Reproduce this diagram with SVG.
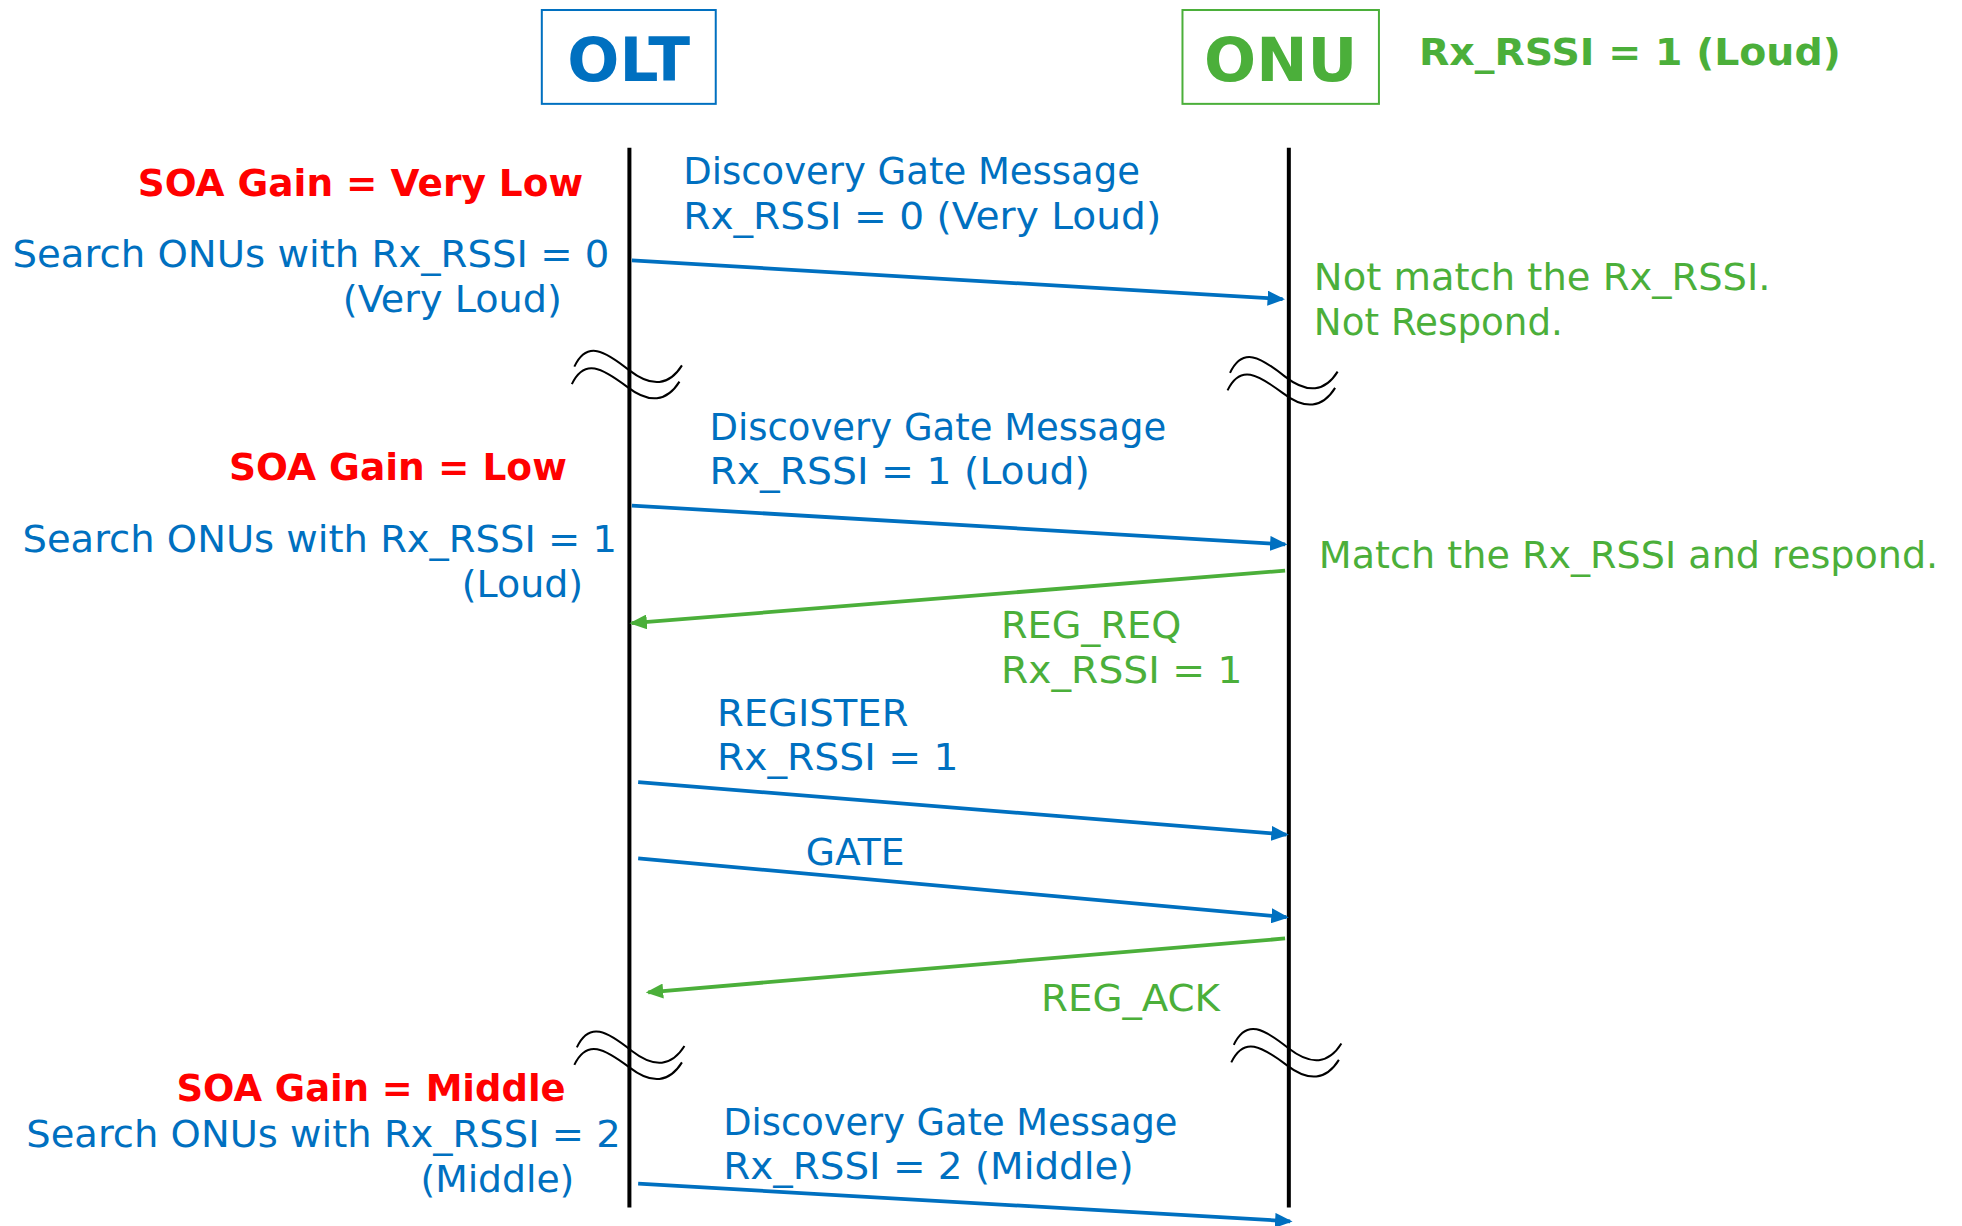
<svg xmlns="http://www.w3.org/2000/svg" width="1962" height="1226" viewBox="0 0 1962 1226">
  <style>
    .t { font-family: "DejaVu Sans", Verdana, sans-serif; font-size: 30px; }
    .b { font-family: "DejaVu Sans", Verdana, sans-serif; font-weight: bold; font-size: 30px; }
    .big { font-family: "DejaVu Sans", Verdana, sans-serif; font-weight: bold; font-size: 49px; }
    .blue { fill: #0070C0; }
    .green { fill: #4BAF3A; }
    .red { fill: #FF0000; }
    .life { stroke: #000; stroke-width: 3.2; fill: none; }
    .brk { stroke: #000; stroke-width: 1.6; fill: none; }
    .msgb { stroke: #0070C0; stroke-width: 3; fill: none; marker-end: url(#ab); }
    .msgg { stroke: #4BAF3A; stroke-width: 3; fill: none; marker-end: url(#ag); }
  </style>
  <defs>
    <marker id="ab" markerUnits="userSpaceOnUse" markerWidth="14" markerHeight="12" refX="12" refY="6" orient="auto">
      <path d="M0,0 L14,6 L0,12 z" fill="#0070C0"/>
    </marker>
    <marker id="ag" markerUnits="userSpaceOnUse" markerWidth="14" markerHeight="12" refX="12" refY="6" orient="auto">
      <path d="M0,0 L14,6 L0,12 z" fill="#4BAF3A"/>
    </marker>
    <!-- double wavy break mark, centred on a lifeline -->
    <g id="brk">
      <path class="brk" d="M-44,-3 C-34,-24 -20,-16 0,0 C18,14 32,12 42,-4"/>
      <path class="brk" d="M-46,11 C-36,-10 -22,-2 -2,13 C16,27 30,25 40,9"/>
    </g>
  </defs>
  <rect width="1962" height="1226" fill="#fff"/>
  <g transform="scale(1.2513)">
    <!-- OLT header -->
    <g id="olt">
      <rect x="433" y="8" width="139" height="75" fill="none" stroke="#0070C0" stroke-width="1.6"/>
      <text class="big blue" x="502.5" y="65" text-anchor="middle">OLT</text>
    </g>
    <!-- ONU header -->
    <g id="onu">
      <rect x="945" y="8" width="157" height="75" fill="none" stroke="#4BAF3A" stroke-width="1.6"/>
      <text class="big green" x="1023.5" y="65" text-anchor="middle">ONU</text>
      <text class="b green" x="1134" y="52" textLength="337" lengthAdjust="spacingAndGlyphs">Rx_RSSI = 1 (Loud)</text>
    </g>

    <!-- lifelines and breaks -->
    <g id="lifelines">
      <line class="life" x1="503" y1="118" x2="503" y2="965"/>
      <line class="life" x1="1030" y1="118" x2="1030" y2="965"/>
      <use href="#brk" x="503" y="296"/>
      <use href="#brk" x="1027" y="301"/>
      <use href="#brk" x="505" y="840"/>
      <use href="#brk" x="1030" y="838"/>
    </g>

    <!-- OLT side annotations -->
    <g id="olt-notes">
      <text class="b red" x="466" y="157" text-anchor="end" textLength="356" lengthAdjust="spacingAndGlyphs">SOA Gain = Very Low</text>
      <text class="t blue" x="487" y="213" text-anchor="end" textLength="477" lengthAdjust="spacingAndGlyphs">Search ONUs with Rx_RSSI = 0</text>
      <text class="t blue" x="449" y="249" text-anchor="end" textLength="175" lengthAdjust="spacingAndGlyphs">(Very Loud)</text>

      <text class="b red" x="453" y="384" text-anchor="end" textLength="270" lengthAdjust="spacingAndGlyphs">SOA Gain = Low</text>
      <text class="t blue" x="493" y="441" text-anchor="end" textLength="475" lengthAdjust="spacingAndGlyphs">Search ONUs with Rx_RSSI = 1</text>
      <text class="t blue" x="466" y="477" text-anchor="end" textLength="97" lengthAdjust="spacingAndGlyphs">(Loud)</text>

      <text class="b red" x="452" y="880" text-anchor="end" textLength="311" lengthAdjust="spacingAndGlyphs">SOA Gain = Middle</text>
      <text class="t blue" x="496" y="917" text-anchor="end" textLength="475" lengthAdjust="spacingAndGlyphs">Search ONUs with Rx_RSSI = 2</text>
      <text class="t blue" x="459" y="953" text-anchor="end" textLength="123" lengthAdjust="spacingAndGlyphs">(Middle)</text>
    </g>

    <!-- ONU side annotations -->
    <g id="onu-notes">
      <text class="t green" x="1050" y="232" textLength="365" lengthAdjust="spacingAndGlyphs">Not match the Rx_RSSI.</text>
      <text class="t green" x="1050" y="268" textLength="199" lengthAdjust="spacingAndGlyphs">Not Respond.</text>
      <text class="t green" x="1054" y="454" textLength="495" lengthAdjust="spacingAndGlyphs">Match the Rx_RSSI and respond.</text>
    </g>

    <!-- message labels -->
    <g id="labels">
      <text class="t blue" x="546" y="147" textLength="365" lengthAdjust="spacingAndGlyphs">Discovery Gate Message</text>
      <text class="t blue" x="546" y="183" textLength="382" lengthAdjust="spacingAndGlyphs">Rx_RSSI = 0 (Very Loud)</text>

      <text class="t blue" x="567" y="352" textLength="365" lengthAdjust="spacingAndGlyphs">Discovery Gate Message</text>
      <text class="t blue" x="567" y="387" textLength="304" lengthAdjust="spacingAndGlyphs">Rx_RSSI = 1 (Loud)</text>

      <text class="t green" x="800" y="510" textLength="144" lengthAdjust="spacingAndGlyphs">REG_REQ</text>
      <text class="t green" x="800" y="546" textLength="193" lengthAdjust="spacingAndGlyphs">Rx_RSSI = 1</text>

      <text class="t blue" x="573" y="580" textLength="153" lengthAdjust="spacingAndGlyphs">REGISTER</text>
      <text class="t blue" x="573" y="615" textLength="193" lengthAdjust="spacingAndGlyphs">Rx_RSSI = 1</text>

      <text class="t blue" x="644" y="691" textLength="79" lengthAdjust="spacingAndGlyphs">GATE</text>

      <text class="t green" x="832" y="808" textLength="143" lengthAdjust="spacingAndGlyphs">REG_ACK</text>

      <text class="t blue" x="578" y="907" textLength="363" lengthAdjust="spacingAndGlyphs">Discovery Gate Message</text>
      <text class="t blue" x="578" y="942" textLength="328" lengthAdjust="spacingAndGlyphs">Rx_RSSI = 2 (Middle)</text>
    </g>

    <!-- connectors -->
    <g id="connectors">
      <line class="msgb" x1="505" y1="208" x2="1025" y2="239"/>
      <line class="msgb" x1="505" y1="404" x2="1027" y2="435"/>
      <line class="msgg" x1="1027" y1="456" x2="505" y2="498"/>
      <line class="msgb" x1="510" y1="625" x2="1028" y2="667"/>
      <line class="msgb" x1="510" y1="686" x2="1028" y2="733"/>
      <line class="msgg" x1="1027" y1="750" x2="518" y2="793"/>
      <line class="msgb" x1="510" y1="946" x2="1031" y2="976"/>
    </g>
  </g>
</svg>
